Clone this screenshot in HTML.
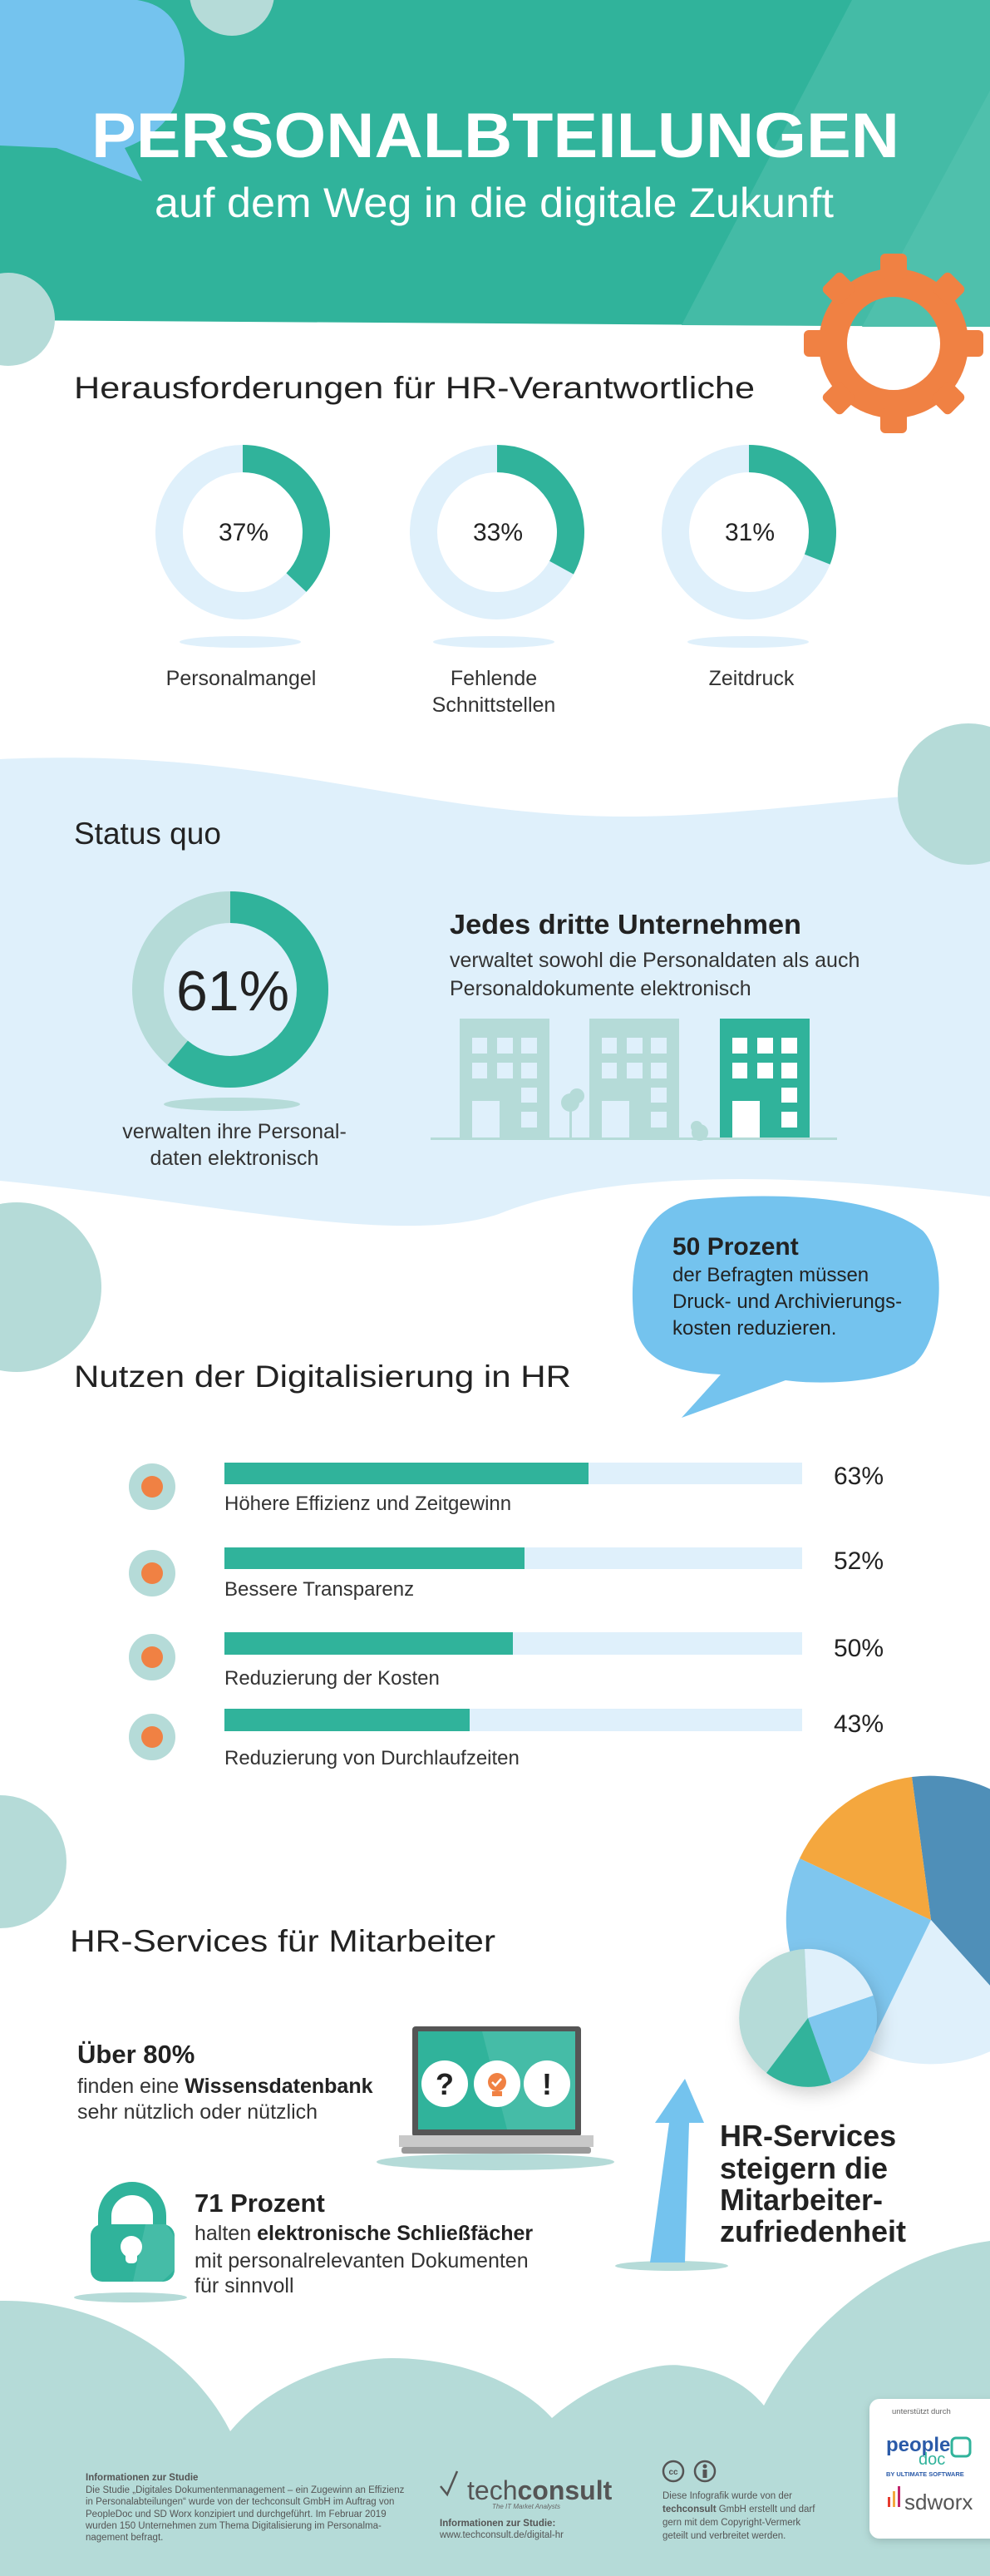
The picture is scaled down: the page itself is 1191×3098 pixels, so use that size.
<!DOCTYPE html>
<html><head><meta charset="utf-8"><style>
html,body{margin:0;padding:0;background:#fff}
svg{display:block}
text{font-family:"Liberation Sans",sans-serif}
</style></head><body>
<svg width="1191" height="3098" viewBox="0 0 1191 3098" xmlns="http://www.w3.org/2000/svg">
<defs>
<filter id="sh" x="-30%" y="-30%" width="160%" height="160%"><feDropShadow dx="4" dy="8" stdDeviation="10" flood-color="#000" flood-opacity="0.18"/></filter>
<filter id="sh2" x="-30%" y="-30%" width="160%" height="160%"><feDropShadow dx="0" dy="3" stdDeviation="5" flood-color="#000" flood-opacity="0.15"/></filter>
</defs>
<!-- header -->
<polygon points="0,0 1191,0 1191,393 0,385" fill="#30b39b"/>
<polygon points="1025,0 1191,0 1191,393 820,391" fill="#44bba6"/>
<polygon points="1191,109 1191,393 1037,393" fill="#4fc0ac"/>
<circle cx="279" cy="-8" r="51" fill="#b5dbd8"/>
<path d="M0,0 L165,0 Q218,8 222,70 Q224,150 150,178 L171,218 L68,178 L0,175 Z" fill="#74c3ee"/>
<circle cx="10" cy="384" r="56" fill="#b5dbd8"/>
<text x="110" y="189" font-size="76" font-weight="bold" fill="#fff" textLength="972" lengthAdjust="spacingAndGlyphs">PERSONALBTEILUNGEN</text>
<text x="186" y="261" font-size="50" fill="#fff" textLength="817" lengthAdjust="spacingAndGlyphs">auf dem Weg in die digitale Zukunft</text>
<!-- gear -->
<g fill="#f08143" transform="translate(1075,413)">
<circle r="73" fill="none" stroke="#f08143" stroke-width="34"/>
<g id="t"><rect x="-16" y="-108" width="32" height="30" rx="6"/></g>
<use href="#t" transform="rotate(45)"/><use href="#t" transform="rotate(90)"/><use href="#t" transform="rotate(135)"/>
<use href="#t" transform="rotate(180)"/><use href="#t" transform="rotate(225)"/><use href="#t" transform="rotate(270)"/><use href="#t" transform="rotate(315)"/>
</g>
<text x="89" y="479" font-size="37" fill="#222" textLength="819" lengthAdjust="spacingAndGlyphs">Herausforderungen für HR-Verantwortliche</text>
<!-- donuts -->
<g fill="none" stroke-width="33">
<circle cx="292" cy="640" r="88.5" stroke="#dff0fb"/>
<circle cx="292" cy="640" r="88.5" stroke="#30b39b" stroke-dasharray="205.7 600" transform="rotate(-90 292 640)"/>
<circle cx="598" cy="640" r="88.5" stroke="#dff0fb"/>
<circle cx="598" cy="640" r="88.5" stroke="#30b39b" stroke-dasharray="183.5 600" transform="rotate(-90 598 640)"/>
<circle cx="901" cy="640" r="88.5" stroke="#dff0fb"/>
<circle cx="901" cy="640" r="88.5" stroke="#30b39b" stroke-dasharray="172.4 600" transform="rotate(-90 901 640)"/>
</g>
<g font-size="30" fill="#222" text-anchor="middle">
<text x="293" y="650">37%</text><text x="599" y="650">33%</text><text x="902" y="650">31%</text>
</g>
<g fill="#dff0fb"><ellipse cx="289" cy="772" rx="73" ry="7"/><ellipse cx="594" cy="772" rx="73" ry="7"/><ellipse cx="900" cy="772" rx="73" ry="7"/></g>
<g font-size="25" fill="#333" text-anchor="middle">
<text x="290" y="824">Personalmangel</text><text x="594" y="824">Fehlende</text><text x="594" y="856">Schnittstellen</text><text x="904" y="824">Zeitdruck</text>
</g>
<!-- status quo band -->
<path d="M0,913 C300,900 450,965 683,980 C850,990 1000,960 1191,951 L1191,1439 C1000,1415 750,1400 600,1460 C480,1500 250,1445 0,1420 Z" fill="#dff0fb"/>
<circle cx="1165" cy="955" r="85" fill="#b5dbd8"/>
<circle cx="1080" cy="947" r="0" fill="#b5dbd8"/>
<circle cx="1165" cy="870" r="0"/>
<text x="89" y="1015" font-size="37" fill="#222">Status quo</text>
<circle cx="277" cy="1190" r="99" fill="none" stroke="#b5dbd8" stroke-width="38"/>
<circle cx="277" cy="1190" r="99" fill="none" stroke="#30b39b" stroke-width="38" stroke-dasharray="379.4 700" transform="rotate(-90 277 1190)"/>
<text x="280" y="1215" font-size="68" fill="#222" text-anchor="middle">61%</text>
<ellipse cx="279" cy="1328" rx="82" ry="8" fill="#b5dbd8"/>
<g font-size="25" fill="#333" text-anchor="middle"><text x="282" y="1369">verwalten ihre Personal-</text><text x="282" y="1401">daten elektronisch</text></g>
<text x="541" y="1123" font-size="33" font-weight="bold" fill="#222" textLength="423" lengthAdjust="spacingAndGlyphs">Jedes dritte Unternehmen</text>
<g font-size="25" fill="#333"><text x="541" y="1163">verwaltet sowohl die Personaldaten als auch</text><text x="541" y="1197">Personaldokumente elektronisch</text></g>
<!-- buildings -->
<g id="b1">
<rect x="553" y="1225" width="108" height="145" fill="#b5dbd8"/>
<g fill="#dff0fb">
<rect x="568" y="1248" width="18" height="19"/><rect x="598" y="1248" width="19" height="19"/><rect x="627" y="1248" width="19" height="19"/>
<rect x="568" y="1278" width="18" height="19"/><rect x="598" y="1278" width="19" height="19"/><rect x="627" y="1278" width="19" height="19"/>
<rect x="627" y="1308" width="19" height="18"/><rect x="627" y="1337" width="19" height="19"/>
<rect x="568" y="1324" width="33" height="46"/></g>
</g>
<g transform="translate(156,0)">
<rect x="553" y="1225" width="108" height="145" fill="#b5dbd8"/>
<g fill="#dff0fb">
<rect x="568" y="1248" width="18" height="19"/><rect x="598" y="1248" width="19" height="19"/><rect x="627" y="1248" width="19" height="19"/>
<rect x="568" y="1278" width="18" height="19"/><rect x="598" y="1278" width="19" height="19"/><rect x="627" y="1278" width="19" height="19"/>
<rect x="627" y="1308" width="19" height="18"/><rect x="627" y="1337" width="19" height="19"/>
<rect x="568" y="1324" width="33" height="46"/></g>
</g>
<g transform="translate(313,0)">
<rect x="553" y="1225" width="108" height="145" fill="#30b39b"/>
<g fill="#fff">
<rect x="568" y="1248" width="18" height="19"/><rect x="598" y="1248" width="19" height="19"/><rect x="627" y="1248" width="19" height="19"/>
<rect x="568" y="1278" width="18" height="19"/><rect x="598" y="1278" width="19" height="19"/><rect x="627" y="1278" width="19" height="19"/>
<rect x="627" y="1308" width="19" height="18"/><rect x="627" y="1337" width="19" height="19"/>
<rect x="568" y="1324" width="33" height="46"/></g>
</g>
<g fill="#b5dbd8"><circle cx="686" cy="1326" r="11"/><circle cx="694" cy="1318" r="9"/><rect x="685" y="1330" width="3" height="40"/>
<circle cx="842" cy="1362" r="10"/><circle cx="838" cy="1355" r="7"/></g>
<rect x="518" y="1368" width="489" height="3" fill="#b5dbd8"/>
<!-- left circle, bubble -->
<circle cx="20" cy="1548" r="102" fill="#b5dbd8"/>
<path d="M830,1443 C940,1432 1060,1440 1110,1480 C1140,1510 1135,1610 1100,1640 C1060,1665 980,1665 945,1660 L820,1705 L867,1653 C800,1650 770,1630 763,1590 C757,1540 760,1460 830,1443 Z" fill="#74c3ee"/>
<text x="809" y="1509" font-size="30" font-weight="bold" fill="#222">50 Prozent</text>
<g font-size="24" fill="#222"><text x="809" y="1541">der Befragten müssen</text><text x="809" y="1573">Druck- und Archivierungs-</text><text x="809" y="1605">kosten reduzieren.</text></g>
<text x="89" y="1668" font-size="37" fill="#222" textLength="598" lengthAdjust="spacingAndGlyphs">Nutzen der Digitalisierung in HR</text>
<!-- bars -->
<g>
<rect x="270" y="1759" width="695" height="26" fill="#dff0fb"/><rect x="270" y="1759" width="438" height="26" fill="#30b39b"/>
<rect x="270" y="1861" width="695" height="26" fill="#dff0fb"/><rect x="270" y="1861" width="361" height="26" fill="#30b39b"/>
<rect x="270" y="1963" width="695" height="27" fill="#dff0fb"/><rect x="270" y="1963" width="347" height="27" fill="#30b39b"/>
<rect x="270" y="2055" width="695" height="27" fill="#dff0fb"/><rect x="270" y="2055" width="295" height="27" fill="#30b39b"/>
</g>
<g font-size="30" fill="#222"><text x="1003" y="1785">63%</text><text x="1003" y="1887">52%</text><text x="1003" y="1992">50%</text><text x="1003" y="2083">43%</text></g>
<g font-size="24" fill="#333"><text x="270" y="1816">Höhere Effizienz und Zeitgewinn</text><text x="270" y="1919">Bessere Transparenz</text><text x="270" y="2026">Reduzierung der Kosten</text><text x="270" y="2122">Reduzierung von Durchlaufzeiten</text></g>
<g fill="#b5dbd8"><circle cx="183" cy="1788" r="28"/><circle cx="183" cy="1892" r="28"/><circle cx="183" cy="1993" r="28"/><circle cx="183" cy="2089" r="28"/></g>
<g fill="#f08143"><circle cx="183" cy="1788" r="13"/><circle cx="183" cy="1892" r="13"/><circle cx="183" cy="1993" r="13"/><circle cx="183" cy="2089" r="13"/></g>
<circle cx="0" cy="2239" r="80" fill="#b5dbd8"/>
<!-- pies -->
<path d="M1120,2309 L1097,2137 A174,174 0 0 1 1236,2438 Z" fill="#4f8fb8"/>
<path d="M1120,2309 L1236,2438 A174,174 0 0 1 1044,2465 Z" fill="#dff0fb"/>
<path d="M1120,2309 L1044,2465 A174,174 0 0 1 962,2235 Z" fill="#7fc6ee"/>
<path d="M1120,2309 L962,2235 A174,174 0 0 1 1097,2137 Z" fill="#f4a73e"/>
<g filter="url(#sh)">
<path d="M972,2427 L922,2493 A83,83 0 0 1 968,2344 Z" fill="#b5dbd8"/>
<path d="M972,2427 L968,2344 A83,83 0 0 1 1050.5,2400 Z" fill="#dff0fb"/>
<path d="M972,2427 L1050.5,2400 A83,83 0 0 1 1000,2505 Z" fill="#7fc6ee"/>
<path d="M972,2427 L1000,2505 A83,83 0 0 1 922,2493 Z" fill="#30b39b"/>
</g>
<text x="84" y="2347" font-size="37" fill="#222" textLength="512" lengthAdjust="spacingAndGlyphs">HR-Services für Mitarbeiter</text>
<text x="93" y="2481" font-size="31" font-weight="bold" fill="#222">Über 80%</text>
<g font-size="25" fill="#333"><text x="93" y="2517">finden eine <tspan font-weight="bold" fill="#222">Wissensdatenbank</tspan></text><text x="93" y="2548">sehr nützlich oder nützlich</text></g>
<!-- laptop -->
<ellipse cx="596" cy="2600" rx="143" ry="10" fill="#b5dbd8"/>
<rect x="496" y="2437" width="203" height="133" rx="4" fill="#555"/>
<rect x="503" y="2443" width="189" height="118" fill="#30b39b"/>
<polygon points="580,2443 692,2443 692,2561 610,2561" fill="#45bca7"/>
<rect x="480" y="2568" width="234" height="14" fill="#c9c9c9"/>
<rect x="483" y="2582" width="228" height="8" rx="3" fill="#9a9a9a"/>
<g fill="#fff"><circle cx="535" cy="2506" r="28"/><circle cx="598" cy="2506" r="28"/><circle cx="658" cy="2506" r="28"/></g>
<text x="535" y="2519" font-size="36" font-weight="bold" fill="#222" text-anchor="middle">?</text>
<text x="658" y="2519" font-size="36" font-weight="bold" fill="#222" text-anchor="middle">!</text>
<circle cx="598" cy="2504" r="11" fill="#f08143"/><rect x="592" y="2515" width="12" height="6" fill="#f08143"/>
<path d="M592,2504 l4,4 l7,-8" stroke="#fff" stroke-width="2.5" fill="none"/>
<!-- lock -->
<ellipse cx="157" cy="2763" rx="68" ry="6" fill="#b5dbd8"/>
<path d="M126,2690 L126,2665 A33,33 0 0 1 192,2665 L192,2690" fill="none" stroke="#30b39b" stroke-width="16"/>
<rect x="109" y="2675" width="101" height="69" rx="14" fill="#30b39b"/>
<polygon points="175,2675 200,2675 210,2690 210,2730 195,2744 160,2744" fill="#45bca7"/>
<circle cx="158" cy="2702" r="13" fill="#fff"/><rect x="151" y="2702" width="14" height="20" rx="5" fill="#fff"/>
<text x="234" y="2660" font-size="31" font-weight="bold" fill="#222">71 Prozent</text>
<g font-size="25" fill="#333"><text x="234" y="2694">halten <tspan font-weight="bold" fill="#222">elektronische Schließfächer</tspan></text><text x="234" y="2727">mit personalrelevanten Dokumenten</text><text x="234" y="2757">für sinnvoll</text></g>
<!-- arrow -->
<ellipse cx="808" cy="2725" rx="68" ry="6" fill="#b5dbd8"/>
<polygon points="782,2721 805,2553 788,2553 824,2500 847,2553 829,2553 824,2721" fill="#74c3ee"/>
<g font-size="36" fill="#222" font-weight="bold"><text x="866" y="2581">HR-Services</text><text x="866" y="2620">steigern die</text><text x="866" y="2658">Mitarbeiter-</text><text x="866" y="2696">zufriedenheit</text></g>
<!-- footer -->
<path d="M0,2767 C120,2765 230,2830 277,2924 C330,2860 420,2836 471,2836 C560,2836 630,2870 664,2908 C720,2860 790,2840 820,2845 C870,2850 900,2870 919,2893 C980,2780 1080,2710 1191,2695 L1191,3098 L0,3098 Z" fill="#b5dbd8"/>
<g font-size="11.5" fill="#555">
<text x="103" y="2983" font-weight="bold">Informationen zur Studie</text>
<text x="103" y="2998">Die Studie „Digitales Dokumentenmanagement – ein Zugewinn an Effizienz</text>
<text x="103" y="3012">in Personalabteilungen“ wurde von der techconsult GmbH im Auftrag von</text>
<text x="103" y="3027">PeopleDoc und SD Worx konzipiert und durchgeführt. Im Februar 2019</text>
<text x="103" y="3041">wurden 150 Unternehmen zum Thema Digitalisierung im Personalma-</text>
<text x="103" y="3055">nagement befragt.</text>
<text x="797" y="3005">Diese Infografik wurde von der</text>
<text x="797" y="3021"><tspan font-weight="bold">techconsult</tspan> GmbH erstellt und darf</text>
<text x="797" y="3037">gern mit dem Copyright-Vermerk</text>
<text x="797" y="3053">geteilt und verbreitet werden.</text>
<text x="529" y="3038" font-weight="bold">Informationen zur Studie:</text>
<text x="529" y="3052">www.techconsult.de/digital-hr</text>
</g>
<path d="M530,2990 l8,10 l12,-28" stroke="#555" stroke-width="2.5" fill="none"/>
<text x="562" y="3006" font-size="32" fill="#555">tech<tspan font-weight="bold">consult</tspan></text>
<text x="592" y="3017" font-size="8" font-style="italic" fill="#666">The IT Market Analysts</text>
<circle cx="810" cy="2972" r="12" fill="none" stroke="#555" stroke-width="2.5"/><text x="810" y="2976" font-size="10" font-weight="bold" fill="#555" text-anchor="middle">cc</text>
<circle cx="848" cy="2972" r="12" fill="none" stroke="#555" stroke-width="2.5"/><circle cx="848" cy="2966" r="2.5" fill="#555"/><rect x="845.5" y="2970" width="5" height="10" fill="#555"/>
<rect x="1046" y="2885" width="160" height="168" rx="12" fill="#fff" filter="url(#sh2)"/>
<text x="1073" y="2903" font-size="9.5" fill="#666">unterstützt durch</text>
<text x="1066" y="2948" font-size="24" font-weight="bold" fill="#2a5aa8">people</text>
<text x="1105" y="2964" font-size="20" fill="#30b39b">doc</text>
<rect x="1145" y="2932" width="22" height="22" rx="5" fill="none" stroke="#30b39b" stroke-width="3"/>
<text x="1066" y="2978" font-size="7.5" font-weight="bold" fill="#2a5aa8">BY ULTIMATE SOFTWARE</text>
<rect x="1068" y="3003" width="3" height="12" fill="#e63b2e"/><rect x="1074" y="2996" width="3" height="19" fill="#f4a73e"/><rect x="1080" y="2990" width="3" height="25" fill="#c0246b"/>
<text x="1088" y="3018" font-size="26" fill="#555">sdworx</text>
</svg>
</body></html>
